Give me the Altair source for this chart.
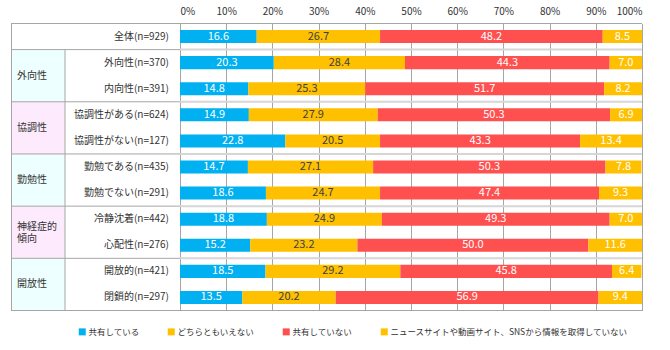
import altair as alt
import pandas as pd

FONT = "Noto Sans CJK JP"

rows = ["全体(n=929)", "外向性(n=370)", "内向性(n=391)", "協調性がある(n=624)",
        "協調性がない(n=127)", "勤勉である(n=435)", "勤勉でない(n=291)",
        "冷静沈着(n=442)", "心配性(n=276)", "開放的(n=421)", "閉鎖的(n=297)"]
series = ["共有している", "どちらともいえない", "共有していない",
          "ニュースサイトや動画サイト、SNSから情報を取得していない"]
shared = [16.6, 20.3, 14.8, 14.9, 22.8, 14.7, 18.6, 18.8, 15.2, 18.5, 13.5]
neutral = [26.7, 28.4, 25.3, 27.9, 20.5, 27.1, 24.7, 24.9, 23.2, 29.2, 20.2]
not_shared = [48.2, 44.3, 51.7, 50.3, 43.3, 50.3, 47.4, 49.3, 50.0, 45.8, 56.9]
no_info = [8.5, 7.0, 8.2, 6.9, 13.4, 7.8, 9.3, 7.0, 11.6, 6.4, 9.4]
groups = ["外向性", "協調性", "勤勉性", "神経症的\n傾向", "開放性"]
group_first_row = [1, 3, 5, 7, 9]
group_fill = ["#EEFFFF", "#FDEAFD", "#EEFFFF", "#FDEAFD", "#EEFFFF"]
colors = ["#00B0F0", "#FFC000", "#FF5050", "#FFC000"]
ticks = [0, 10, 20, 30, 40, 50, 60, 70, 80, 90, 100]

PLOT_W = 462
PLOT_H = 287
TABLE_W = 169
GROUP_COL = 54
N = len(rows)

records = []
for i, r in enumerate(rows):
    for s, vals in enumerate([shared, neutral, not_shared, no_info]):
        records.append({"row": r, "idx": i, "series": series[s], "sid": s, "value": vals[i]})
df = pd.DataFrame(records)

row_df = pd.DataFrame({"row": rows, "idx": list(range(N))})
group_df = pd.DataFrame({"name": groups, "first": group_first_row, "fill": group_fill})

ys = alt.Scale(domain=[0, N], reverse=True, nice=False, zero=False)
xs = alt.Scale(domain=[0, 100], nice=False)

# ---------- right panel: bars ----------
base = alt.Chart(df).transform_stack(
    stack="value", groupby=["row"], as_=["x0", "x1"], sort=[alt.SortField("sid")]
).transform_calculate(
    mid="(datum.x0 + datum.x1) / 2",
    yt="datum.idx + 0.25",
    yb="datum.idx + 0.75",
    ym="datum.idx + 0.5",
)

xaxis = alt.Axis(orient="top", values=ticks, labelExpr="datum.value + '%'",
                 domain=False, ticks=False, grid=True, gridColor="#a6a6a6",
                 gridWidth=1, gridOpacity=1, labelFont=FONT, labelFontSize=10,
                 labelColor="#333333", labelPadding=7.5, title=None)

legend = alt.Legend(orient="none", legendX=67, legendY=304, direction="horizontal",
                    title=None, symbolType="square", symbolSize=49, symbolStrokeWidth=0,
                    labelFont=FONT, labelFontSize=8.5, labelColor="#333333",
                    labelOffset=2, columnPadding=27, columns=4, labelLimit=400)

bars = base.mark_rect().encode(
    x=alt.X("x0:Q", scale=xs, axis=xaxis),
    x2="x1:Q",
    y=alt.Y("yt:Q", scale=ys, axis=None),
    y2="yb:Q",
    color=alt.Color("series:N", scale=alt.Scale(domain=series, range=colors), legend=legend),
)

labels = base.mark_text(font=FONT, fontSize=11, baseline="middle").encode(
    x=alt.X("mid:Q", scale=xs),
    y=alt.Y("ym:Q", scale=ys),
    text=alt.Text("value:Q", format=".1f"),
    color=alt.condition("datum.sid == 1", alt.value("#404040"), alt.value("white")),
)

sep = alt.Chart(pd.DataFrame({"b": group_first_row})).mark_rule(
    color="#d6d6d6", strokeWidth=2
).encode(y=alt.Y("b:Q", scale=ys), x=alt.value(0), x2=alt.value(PLOT_W))

border = alt.Chart(pd.DataFrame({"b": [0, N]})).mark_rule(
    color="#a6a6a6", strokeWidth=1
).encode(y=alt.Y("b:Q", scale=ys), x=alt.value(0), x2=alt.value(PLOT_W))

right = alt.layer(bars, sep, border, labels).properties(width=PLOT_W, height=PLOT_H)

# ---------- left panel: table ----------
bg = alt.Chart(group_df).transform_calculate(
    y0="datum.first", y1="datum.first + 2"
).mark_rect().encode(
    x=alt.value(0), x2=alt.value(GROUP_COL),
    y=alt.Y("y0:Q", scale=ys, axis=None), y2="y1:Q",
    fill=alt.Color("fill:N", scale=None),
)

glabels = alt.Chart(group_df).transform_calculate(
    ymid="datum.first + 1 - (split(datum.name, '\\n').length - 1) * 0.2"
).mark_text(align="left", baseline="middle", lineBreak="\n", font=FONT,
            fontSize=10, color="#333333", lineHeight=12).encode(
    x=alt.value(6), y=alt.Y("ymid:Q", scale=ys, axis=None), text="name:N"
)

rlabels = alt.Chart(row_df).transform_calculate(
    yc="datum.idx + 0.5"
).mark_text(align="right", baseline="middle", font=FONT, fontSize=10,
            color="#333333").encode(
    x=alt.value(TABLE_W - 11), y=alt.Y("yc:Q", scale=ys, axis=None), text="row:N"
)

hlines = alt.Chart(pd.DataFrame({"b": [0] + group_first_row + [N]})).mark_rule(
    color="#a6a6a6", strokeWidth=1
).encode(y=alt.Y("b:Q", scale=ys, axis=None), x=alt.value(0), x2=alt.value(TABLE_W))

vlines = alt.Chart(pd.DataFrame({"px": [0.5, GROUP_COL], "a": [0, 1], "b": [N, N]})).mark_rule(
    color="#a6a6a6", strokeWidth=1
).encode(x=alt.X("px:Q", scale=alt.Scale(domain=[0, TABLE_W], nice=False, zero=False), axis=None),
         y=alt.Y("a:Q", scale=ys, axis=None), y2="b:Q")

left = alt.layer(bg, hlines, vlines, glabels, rlabels).properties(width=TABLE_W, height=PLOT_H)

chart = alt.hconcat(left, right, spacing=0, bounds="flush").properties(
    padding={"left": 10, "top": 5.5, "right": 18, "bottom": 12},
    background="white",
).configure_view(stroke=None)

chart.save("out.html", embed_options={"renderer": "svg", "actions": False})
